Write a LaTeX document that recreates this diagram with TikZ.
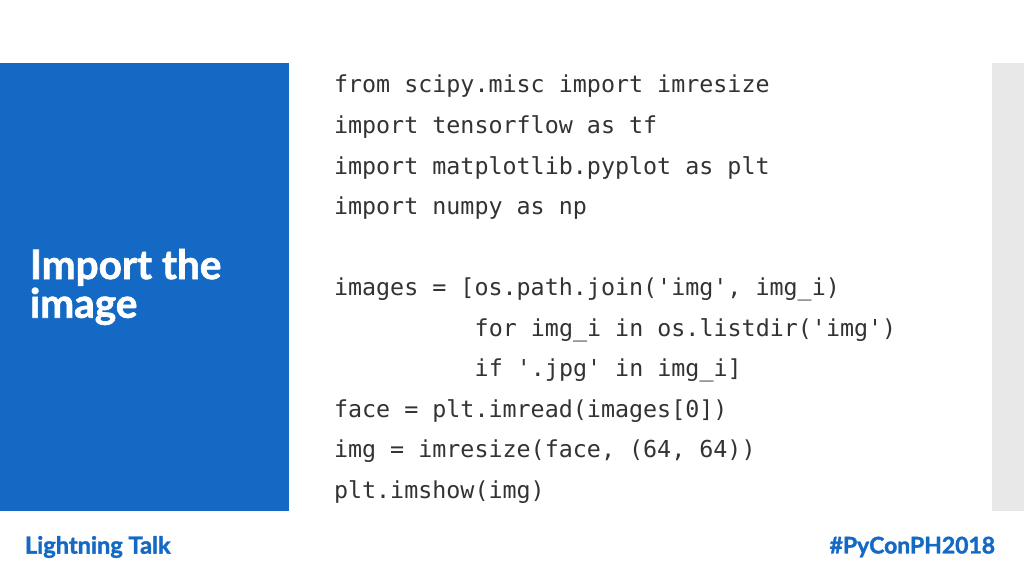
\documentclass[tikz,border=0pt]{standalone}
\usepackage{fontspec}
\setmainfont{Lato}
\setmonofont{DejaVu Sans Mono}
\newfontfamily\heavyfont{Lato}[BoldFeatures={FakeBold=1.6}]
\usetikzlibrary{positioning}
\definecolor{slideblue}{HTML}{1469C4}
\definecolor{barGray}{HTML}{E8E8E8}
\definecolor{codeGray}{HTML}{333333}
\tikzset{every node/.append style={inner sep=0pt, outer sep=0pt}}
\tikzset{codeline/.style={anchor=west, text=codeGray,
    font=\ttfamily\fontsize{16.6}{20}\selectfont}}
\tikzset{title/.style={anchor=west, text=white, align=left,
    font=\heavyfont\bfseries\fontsize{28.8}{27.5}\selectfont}}
\tikzset{footer/.style={text=slideblue,
    font=\heavyfont\bfseries\fontsize{16.3}{17}\selectfont}}

\begin{document}
\begin{tikzpicture}[x=0.025cm, y=-0.025cm]
  \useasboundingbox (0,0) rectangle (1024,576);
  \fill[white] (0,0) rectangle (1024,576);
% panels
  \fill[slideblue] (0,63) rectangle (289,511);
  \fill[barGray] (992,63) rectangle (1024,511);
  \node[title] (head) at (30,287) {Import the\\image};
% code
  \node[codeline] (l1) at (334,86.5) {from scipy.misc import imresize};
  \node[codeline] (l2) at (334,127) {import tensorflow as tf};
  \node[codeline] (l3) at (334,167.5) {import matplotlib.pyplot as plt};
  \node[codeline] (l4) at (334,208) {import numpy as np};
  \node[codeline] (l5) at (334,289.5) {images = [os.path.join('img', img\_i)};
  \node[codeline] (l6) at (474.7,330) {for img\_i in os.listdir('img')};
  \node[codeline] (l7) at (474.7,370) {if '.jpg' in img\_i]};
  \node[codeline] (l8) at (334,411) {face = plt.imread(images[0])};
  \node[codeline] (l9) at (334,451.5) {img = imresize(face, (64, 64))};
  \node[codeline] (l10) at (334,492) {plt.imshow(img)};
% footer
  \node[footer, anchor=west, font=\heavyfont\bfseries\fontsize{16.8}{17}\selectfont]
    (talk) at (25,547) {Lightning Talk};
  \node[footer, anchor=east] (tag) at (995,547) {\#PyConPH2018};
\end{tikzpicture}
\end{document}
